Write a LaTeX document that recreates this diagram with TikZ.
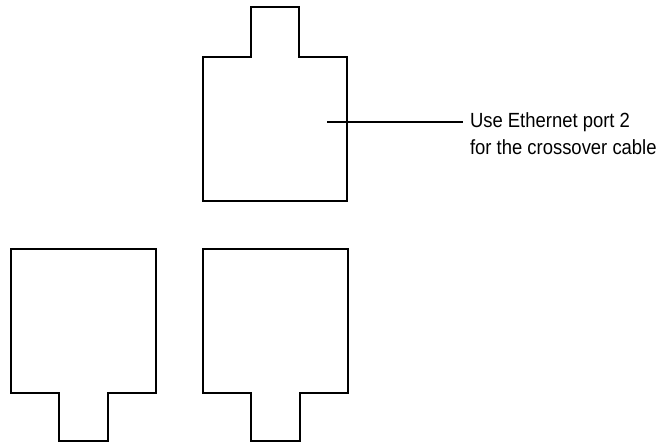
\documentclass[tikz,border=0pt]{standalone}
\usepackage{fontspec}
\usepackage{tikz}
\newfontfamily\narrowsans[FakeStretch=0.9]{Liberation Sans}

\begin{document}
\begin{tikzpicture}[x=1pt, y=-1pt, line width=2pt, every node/.style={font=\narrowsans\fontsize{20.5}{27}\selectfont}]
        \useasboundingbox (0,0) rectangle (657,444);
        \draw (203,201) -- (203,57) -- (251,57) -- (251,7) -- (299,7) -- (299,57) -- (347,57) -- (347,201) -- cycle;
        \draw (11,393) -- (11,249) -- (156,249) -- (156,393) -- (108,393) -- (108,441) -- (59,441) -- (59,393) -- cycle;
        \draw (203,393) -- (203,249) -- (348,249) -- (348,393) -- (300,393) -- (300,441) -- (251,441) -- (251,393) -- cycle;
        \coordinate (port) at (327,122);
        \node[anchor=base west, align=left, inner sep=0pt, inner xsep=6pt] (note) at (463,154) {Use Ethernet port 2\\for the crossover cable};
        \draw (port) -- (port -| note.west);
    \end{tikzpicture}
\end{document}
